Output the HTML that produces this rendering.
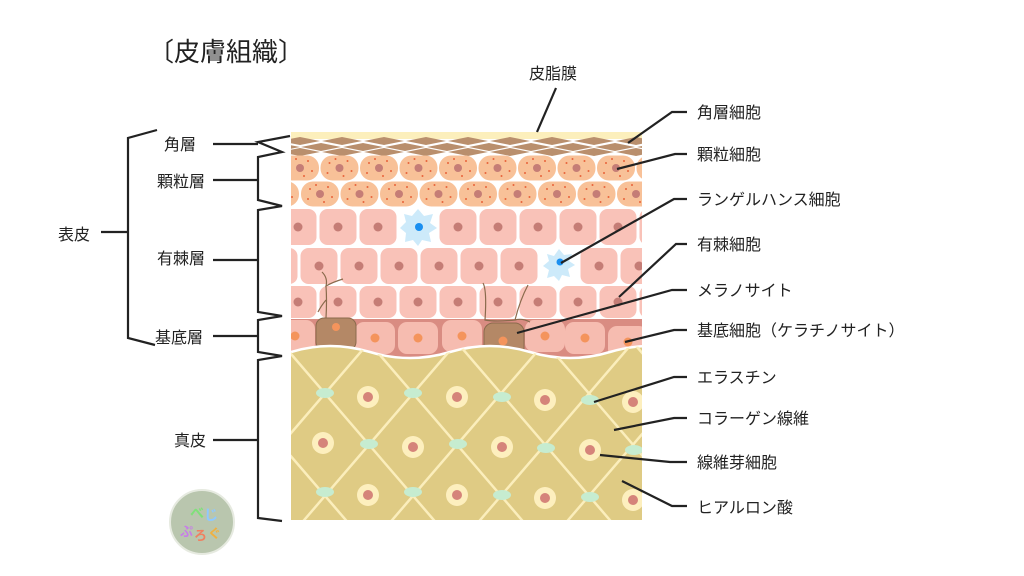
<!DOCTYPE html>
<html><head><meta charset="utf-8"><style>
html,body{margin:0;padding:0;background:#fff;}
svg{display:block;}
text{font-family:"Liberation Sans","Noto Sans CJK JP",sans-serif;fill:#222;}
</style></head><body>
<svg width="1024" height="576" viewBox="0 0 1024 576" xmlns="http://www.w3.org/2000/svg">
<defs>
<clipPath id="c"><rect x="291" y="130" width="351" height="390"/></clipPath>
<clipPath id="dc"><path d="M291 352 Q330 340 370 352 T450 352 T530 352 T610 352 T690 352 V520 H291Z"/></clipPath>
<g id="g"><rect x="-19" y="-12.5" width="38" height="25" rx="12" fill="#f8c198"/><circle r="4" fill="#c57d76"/><circle cx="-10" cy="-5" r="1" fill="#e8623a"/><circle cx="8" cy="-7" r="1" fill="#e8623a"/><circle cx="12" cy="3" r="1" fill="#e8623a"/><circle cx="-12" cy="5" r="1" fill="#e8623a"/><circle cx="4" cy="8" r="1" fill="#e8623a"/><circle cx="-4" cy="-9" r="1" fill="#e8623a"/></g>
<g id="s"><rect x="-18.5" y="-18" width="37" height="36" rx="8" fill="#f9c2b8"/><circle r="4.5" fill="#c57d76"/></g>
<g id="s3"><rect x="-18.5" y="-16" width="37" height="32" rx="8" fill="#f9c2b8"/><circle r="4.5" fill="#c57d76"/></g>
<g id="b"><rect x="-20" y="-16" width="40" height="32" rx="9" fill="#f6bcb0"/><circle r="4.5" fill="#f4945c"/></g>
<g id="f"><circle r="11" fill="#fdefbe"/><circle r="5" fill="#d5847a"/></g>
<g id="e"><ellipse rx="9" ry="5" fill="#c6ecd0"/></g>
<g id="d"><polygon points="0,-4 20,0 0,4 -20,0" fill="#b98f6d"/></g>
</defs>

<text x="148" y="61" font-size="26">〔皮膚組織〕</text>

<g clip-path="url(#c)">
<rect x="291" y="130" width="351" height="200" fill="#fff"/>
<rect x="291" y="132" width="351" height="7" fill="#fcefbc"/>
<g>
<use href="#d" x="300" y="141"/><use href="#d" x="342" y="141"/><use href="#d" x="384" y="141"/><use href="#d" x="426" y="141"/><use href="#d" x="468" y="141"/><use href="#d" x="510" y="141"/><use href="#d" x="552" y="141"/><use href="#d" x="594" y="141"/><use href="#d" x="636" y="141"/>
<use href="#d" x="280" y="147"/><use href="#d" x="321" y="147"/><use href="#d" x="363" y="147"/><use href="#d" x="405" y="147"/><use href="#d" x="447" y="147"/><use href="#d" x="489" y="147"/><use href="#d" x="531" y="147"/><use href="#d" x="573" y="147"/><use href="#d" x="615" y="147"/><use href="#d" x="657" y="147"/>
<use href="#d" x="300" y="152"/><use href="#d" x="342" y="152"/><use href="#d" x="384" y="152"/><use href="#d" x="426" y="152"/><use href="#d" x="468" y="152"/><use href="#d" x="510" y="152"/><use href="#d" x="552" y="152"/><use href="#d" x="594" y="152"/><use href="#d" x="636" y="152"/>
</g>
<g>
<use href="#g" x="300" y="168"/><use href="#g" x="339.5" y="168"/><use href="#g" x="379" y="168"/><use href="#g" x="418.5" y="168"/><use href="#g" x="458" y="168"/><use href="#g" x="497.5" y="168"/><use href="#g" x="537" y="168"/><use href="#g" x="576.5" y="168"/><use href="#g" x="616" y="168"/><use href="#g" x="655.5" y="168"/>
<use href="#g" x="280" y="194"/><use href="#g" x="320" y="194"/><use href="#g" x="359.5" y="194"/><use href="#g" x="399" y="194"/><use href="#g" x="438.5" y="194"/><use href="#g" x="478" y="194"/><use href="#g" x="517.5" y="194"/><use href="#g" x="557" y="194"/><use href="#g" x="596.5" y="194"/><use href="#g" x="636" y="194"/>
</g>
<g>
<use href="#s" x="298" y="227"/><use href="#s" x="338" y="227"/><use href="#s" x="378" y="227"/><use href="#s" x="458" y="227"/><use href="#s" x="498" y="227"/><use href="#s" x="538" y="227"/><use href="#s" x="578" y="227"/><use href="#s" x="618" y="227"/><use href="#s" x="658" y="227"/>
<use href="#s" x="279" y="266"/><use href="#s" x="319" y="266"/><use href="#s" x="359" y="266"/><use href="#s" x="399" y="266"/><use href="#s" x="439" y="266"/><use href="#s" x="479" y="266"/><use href="#s" x="519" y="266"/><use href="#s" x="599" y="266"/><use href="#s" x="639" y="266"/>
<use href="#s3" x="298" y="302"/><use href="#s3" x="338" y="302"/><use href="#s3" x="378" y="302"/><use href="#s3" x="418" y="302"/><use href="#s3" x="458" y="302"/><use href="#s3" x="498" y="302"/><use href="#s3" x="538" y="302"/><use href="#s3" x="578" y="302"/><use href="#s3" x="618" y="302"/><use href="#s3" x="658" y="302"/>
</g>
<polygon points="418,209 424,216 433,214 430,223 437,228 429,233 431,242 422,240 418,246 413,240 405,242 406,233 400,228 406,222 404,214 412,216" fill="#cdeafa"/>
<circle cx="419" cy="227" r="4" fill="#1a8ff0"/>
<polygon points="559,249 564,255 572,254 569,261 575,265 568,269 570,277 562,275 559,281 554,276 547,278 549,270 543,266 549,261 547,254 554,256" fill="#cdeafa"/>
<circle cx="560" cy="262" r="3.5" fill="#1a8ff0"/>
<path d="M291 319 H642 V360 H291Z" fill="#d98c82"/>
<use href="#b" x="295" y="336"/><use href="#b" x="375" y="338"/><use href="#b" x="418" y="338"/><use href="#b" x="462" y="336"/><use href="#b" x="545" y="336"/><use href="#b" x="585" y="338"/><use href="#b" x="628" y="342"/>
<rect x="316" y="318" width="40" height="32" rx="8" fill="#b48866" stroke="#8a6a4c" stroke-width="1"/><circle cx="336" cy="327" r="4" fill="#f4945c"/>
<rect x="484" y="323" width="40" height="36" rx="9" fill="#b48866" stroke="#8a6a4c" stroke-width="1"/><circle cx="503" cy="341" r="4.5" fill="#f4945c"/>
<g stroke="#8a6a4c" stroke-width="1.2" fill="none">
<path d="M322 272 Q328 278 326 286 Q333 282 343 279 M326 286 Q327 300 326 318 M326 300 Q321 306 318 312"/>
<path d="M483 283 Q487 290 485 320 Q495 322 515 320 Q520 300 528 285 M515 320 Q522 318 530 322"/>
</g>
<path d="M291 352 Q330 340 370 352 T450 352 T530 352 T610 352 T690 352 V530 H291Z" fill="#dfcb84"/>
<path d="M291 352 Q330 340 370 352 T450 352 T530 352 T610 352 T690 352" fill="none" stroke="#fff" stroke-width="2.5"/>
<g clip-path="url(#dc)" stroke="#fbeebc" stroke-width="2.5">
<line x1="15" y1="340" x2="187" y2="540"/><line x1="103" y1="340" x2="275" y2="540"/><line x1="191" y1="340" x2="363" y2="540"/><line x1="279" y1="340" x2="451" y2="540"/><line x1="367" y1="340" x2="539" y2="540"/><line x1="455" y1="340" x2="627" y2="540"/><line x1="543" y1="340" x2="715" y2="540"/><line x1="631" y1="340" x2="803" y2="540"/>
<line x1="283" y1="340" x2="111" y2="540"/><line x1="371" y1="340" x2="199" y2="540"/><line x1="459" y1="340" x2="287" y2="540"/><line x1="547" y1="340" x2="375" y2="540"/><line x1="635" y1="340" x2="463" y2="540"/><line x1="723" y1="340" x2="551" y2="540"/><line x1="811" y1="340" x2="639" y2="540"/><line x1="899" y1="340" x2="727" y2="540"/>
</g>
<g clip-path="url(#dc)">
<use href="#f" x="368" y="397"/><use href="#f" x="457" y="397"/><use href="#f" x="545" y="400"/><use href="#f" x="633" y="402"/>
<use href="#f" x="323" y="443"/><use href="#f" x="413" y="447"/><use href="#f" x="502" y="447"/><use href="#f" x="590" y="450"/>
<use href="#f" x="368" y="495"/><use href="#f" x="457" y="495"/><use href="#f" x="545" y="498"/><use href="#f" x="633" y="500"/>
<use href="#e" x="325" y="393"/><use href="#e" x="413" y="393"/><use href="#e" x="502" y="397"/><use href="#e" x="590" y="400"/>
<use href="#e" x="369" y="444"/><use href="#e" x="458" y="444"/><use href="#e" x="546" y="448"/><use href="#e" x="634" y="450"/>
<use href="#e" x="325" y="492"/><use href="#e" x="413" y="492"/><use href="#e" x="502" y="495"/><use href="#e" x="590" y="497"/>
</g>
</g>

<g stroke="#222" stroke-width="2.2" fill="none">
<path d="M157 130 L128 138 V338 L155 345"/>
<line x1="101" y1="232" x2="128" y2="232"/>
<path d="M290 136 L258 142 L282 152 L258 157 V200 L282 206 L258 210 V312 L282 316 L258 320 V352 L282 356 L258 360 V518 L282 521"/>
<line x1="213" y1="144" x2="258" y2="144"/>
<line x1="213" y1="180" x2="258" y2="180"/>
<line x1="213" y1="260" x2="258" y2="260"/>
<line x1="213" y1="336" x2="258" y2="336"/>
<line x1="213" y1="440" x2="258" y2="440"/>
<polyline points="556,88 537,132"/>
<polyline points="687,112 672,112 628,143"/>
<polyline points="687,154 675,154 617,169"/>
<polyline points="687,199 674,199 561,263"/>
<polyline points="687,244 676,244 619,297"/>
<polyline points="687,290 672,290 517,333"/>
<polyline points="687,330 674,330 625,342"/>
<polyline points="687,377 674,377 594,402"/>
<polyline points="687,418 674,418 614,430"/>
<polyline points="687,462 670,462 600,455"/>
<polyline points="687,506 672,506 622,481"/>
</g>

<g font-size="16">
<text x="164" y="150">角層</text>
<text x="157" y="187">顆粒層</text>
<text x="157" y="264">有棘層</text>
<text x="155" y="343">基底層</text>
<text x="58" y="240">表皮</text>
<text x="174" y="446">真皮</text>
<text x="529" y="79">皮脂膜</text>
<text x="697" y="118">角層細胞</text>
<text x="697" y="160">顆粒細胞</text>
<text x="697" y="205">ランゲルハンス細胞</text>
<text x="697" y="250">有棘細胞</text>
<text x="697" y="296">メラノサイト</text>
<text x="697" y="336">基底細胞（ケラチノサイト）</text>
<text x="697" y="383">エラスチン</text>
<text x="697" y="424">コラーゲン線維</text>
<text x="697" y="468">線維芽細胞</text>
<text x="697" y="513">ヒアルロン酸</text>
</g>

<circle cx="202" cy="522" r="32" fill="#b9c6ae"/>
<circle cx="202" cy="522" r="32" fill="none" stroke="#e6eae0" stroke-width="2"/>
<text x="190" y="518" font-size="14" style="fill:#7fe07a" font-weight="bold">べ</text>
<text x="204" y="520" font-size="14" style="fill:#8fc8ff" font-weight="bold">じ</text>
<text x="180" y="536" font-size="13" style="fill:#c77ee8" font-weight="bold">ぷ</text>
<text x="194" y="540" font-size="13" style="fill:#f08060" font-weight="bold">ろ</text>
<text x="208" y="538" font-size="13" style="fill:#f0b040" font-weight="bold">ぐ</text>
</svg>
</body></html>
